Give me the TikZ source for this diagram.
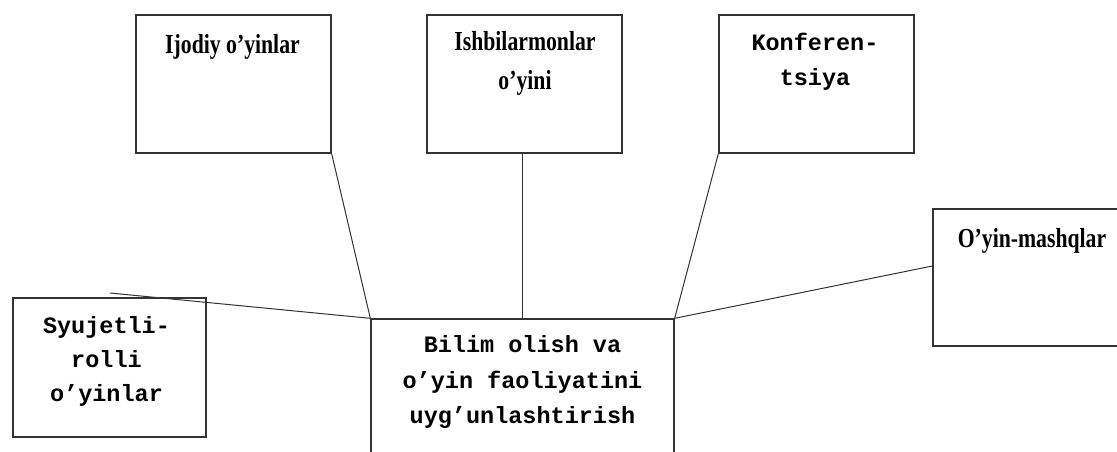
\documentclass[tikz,border=0pt]{standalone}
\usepackage{fontspec}
\setmainfont{Liberation Serif}
\newfontfamily\serifcond[FakeStretch=0.79]{Liberation Serif}
\newfontfamily\monof{Liberation Mono}
\begin{document}
\begin{tikzpicture}[x=1pt,y=-1pt,
  box/.style={draw=black!80, line width=1.3pt, rectangle, inner sep=0pt, fill=none},
  link/.style={draw=black!80, line width=1pt},
  sertxt/.style={inner sep=0pt, align=center, font={\serifcond\bfseries\fontsize{27.5}{39}\selectfont}},
  montxt/.style={inner sep=0pt, align=center, font={\monof\bfseries\fontsize{23.5}{35}\selectfont}}]
\useasboundingbox (0,0) rectangle (1117,452);
\clip (0,0) rectangle (1117,452);
% boxes
\node[box, minimum width=195pt, minimum height=138pt] (ijodiy) at (233.5,84) {};
\node[box, minimum width=195pt, minimum height=138pt] (ish) at (524.5,84) {};
\node[box, minimum width=195pt, minimum height=138pt] (konf) at (816.5,84) {};
\node[box, minimum width=200pt, minimum height=137pt] (oyin) at (1033,277.5) {};
\node[box, minimum width=193pt, minimum height=139pt] (syu) at (109.5,367.5) {};
\node[box, minimum width=303pt, minimum height=160pt] (center) at (522.5,399) {};
% texts
\node[sertxt] (ijodiyT) at (232.5,47) {Ijodiy o’yinlar};
\node[sertxt] (ishT) at (525,63) {Ishbilarmonlar\\o’yini};
\node[montxt] (konfT) at (815,62) {Konferen-\\tsiya};
\node[sertxt] (oyinT) at (1032,241) {O’yin-mashqlar};
\node[montxt, font={\monof\bfseries\fontsize{23.5}{34}\selectfont}] (syuT) at (106.5,361) {Syujetli-\\rolli\\o’yinlar};
\node[montxt, font={\monof\bfseries\fontsize{23.5}{35.5}\selectfont}] (centerT) at (522.5,382) {Bilim olish va\\o’yin faoliyatini\\uyg’unlashtirish};
% connectors
\coordinate (sfree) at (110,293);
\draw[link] (ijodiy.south east) -- (center.north west);
\draw[link] (ish.south -| center.north) -- (center.north);
\draw[link] (konf.south west) -- (center.north east);
\draw[link] (center.north east) -- ([yshift=11.5pt]oyin.west);
\draw[link] (sfree) -- (center.north west);
\end{tikzpicture}
\end{document}
